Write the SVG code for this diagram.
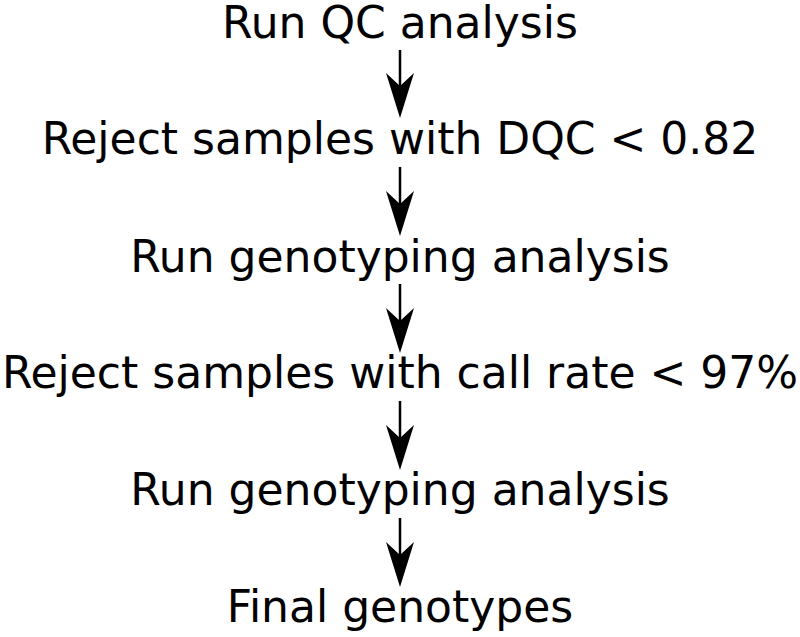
<svg xmlns="http://www.w3.org/2000/svg" width="800" height="637" viewBox="0 0 800 637">
<style>
.t{font-family:"DejaVu Sans","Liberation Sans",sans-serif;font-size:44px;fill:#000;text-anchor:middle}
.c{stroke:#000;stroke-width:2.5;fill:none;marker-end:url(#ah)}
</style>
<defs>
<marker id="ah" markerUnits="userSpaceOnUse" viewBox="-46 -15 46 30" markerWidth="46" markerHeight="30" refX="-30" refY="0" orient="auto">
<path d="M0,0 L-45,-14 L-32,0 L-45,14 Z" fill="#000"/>
</marker>
</defs>
<rect width="800" height="637" fill="#fff"/>
<g id="connectors">
<line class="c" x1="400" y1="50" x2="400" y2="88"/>
<line class="c" x1="400" y1="167" x2="400" y2="206"/>
<line class="c" x1="400" y1="284" x2="400" y2="323"/>
<line class="c" x1="400" y1="401" x2="400" y2="440"/>
<line class="c" x1="400" y1="518" x2="400" y2="557"/>
</g>
<g id="n1"><text class="t" x="400" y="37.5">Run QC analysis</text></g>
<g id="n2"><text class="t" x="400" y="154.3">Reject samples with DQC &lt; 0.82</text></g>
<g id="n3"><text class="t" x="400" y="271.5">Run genotyping analysis</text></g>
<g id="n4"><text class="t" x="400" y="388.3">Reject samples with call rate &lt; 97%</text></g>
<g id="n5"><text class="t" x="400" y="505">Run genotyping analysis</text></g>
<g id="n6"><text class="t" x="400" y="621.8">Final genotypes</text></g>
</svg>
